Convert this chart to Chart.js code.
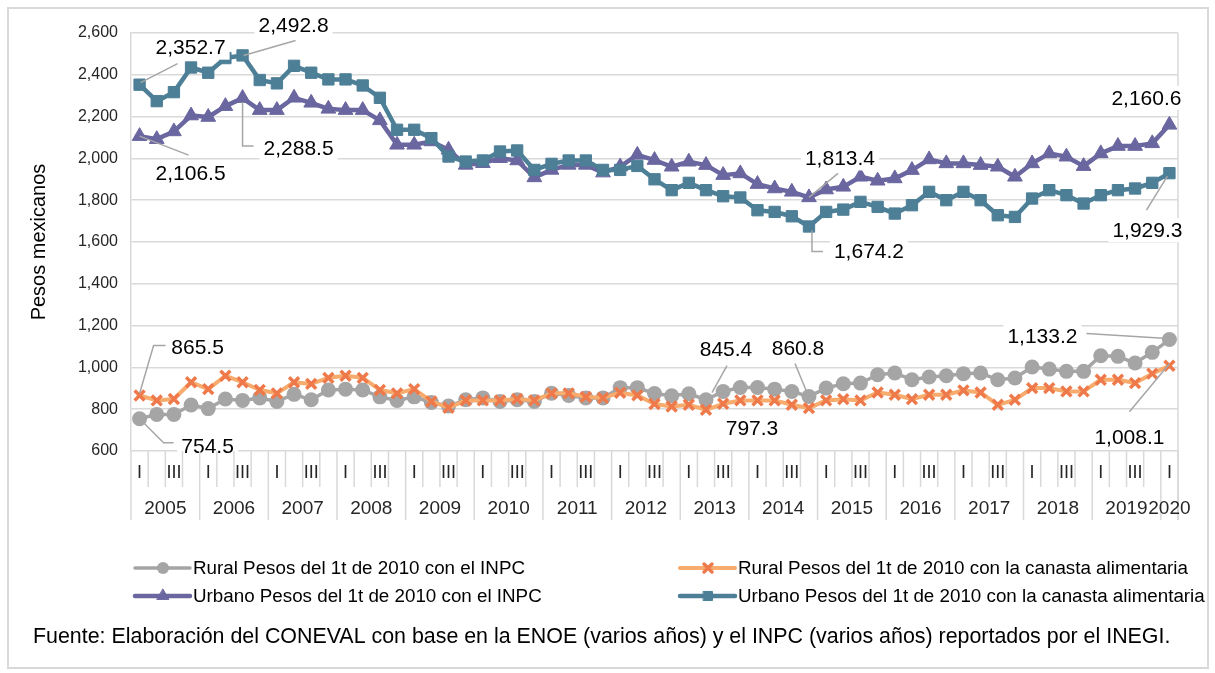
<!DOCTYPE html>
<html lang="es">
<head>
<meta charset="utf-8">
<title>Pesos mexicanos</title>
<script src="https://cdn.jsdelivr.net/npm/chart.js"></script>
<style>
  html, body { margin: 0; padding: 0; background: #fff; }
  #marco { position: absolute; left: 7px; top: 7px; width: 1198px; height: 658px; border: 2px solid #d9d9d9; }
  #grafico { position: absolute; left: 0; top: 0; }
</style>
</head>
<body>
<div id="marco"></div>
<canvas id="grafico" width="1215" height="673"></canvas>
<script>
// Datos
const anios = ['2005', '2006', '2007', '2008', '2009', '2010', '2011', '2012', '2013', '2014', '2015', '2016', '2017', '2018', '2019', '2020'];
const trimestres = ['I', 'II', 'III', 'IV'];

const ruralInpc = [
  754.5, 775, 775, 820, 803, 849, 842, 854, 837, 871, 845, 892, 896, 892, 859, 842,
  859, 832, 815, 845, 854, 837, 845, 837, 876, 866, 854, 854, 903, 903, 875, 864,
  874, 845.4, 885, 904, 904, 896, 885, 860.8, 901, 922, 925, 965, 973, 941, 954, 960,
  970, 973, 941, 949, 1002, 992, 981, 981, 1056, 1053, 1021, 1072, 1133.2
];
const ruralCanasta = [
  865.5, 842, 849, 929, 896, 960, 929, 892, 876, 929, 921, 950, 960, 950, 892, 876,
  896, 837, 807, 842, 842, 842, 849, 842, 876, 876, 859, 854, 879, 866, 825, 813,
  821, 797.3, 826, 842, 842, 842, 821, 805, 842, 848, 842, 880, 869, 848, 869, 869,
  890, 880, 821, 845, 901, 901, 885, 885, 941, 941, 925, 970, 1008.1
];
const urbanoInpc = [
  2106.5, 2092, 2129, 2205, 2198, 2250, 2288.5, 2231, 2231, 2290, 2266, 2237, 2231, 2231, 2182, 2065,
  2065, 2081, 2041, 1969, 1977, 2001, 1990, 1909, 1945, 1969, 1969, 1932, 1961, 2017, 1992, 1960,
  1984, 1968, 1920, 1928, 1877, 1856, 1840, 1813.4, 1851, 1864, 1912, 1893, 1904, 1944, 1995, 1976,
  1976, 1968, 1960, 1912, 1976, 2024, 2008, 1963, 2024, 2059, 2059, 2072, 2160.6
];
const urbanoCanasta = [
  2352.7, 2274, 2317, 2435, 2410, 2480, 2492.8, 2375, 2359, 2443, 2410, 2378, 2378, 2349, 2290, 2137,
  2137, 2097, 2009, 1985, 1990, 2033, 2038, 1945, 1974, 1990, 1990, 1945, 1945, 1964, 1900, 1848,
  1883, 1848, 1819, 1813, 1752, 1744, 1723, 1674.2, 1744, 1755, 1792, 1768, 1736, 1776, 1840, 1800,
  1840, 1800, 1728, 1720, 1808, 1848, 1824, 1784, 1824, 1848, 1856, 1883, 1929.3
];

const nombres = [
  'Rural Pesos del 1t de 2010 con el INPC',
  'Rural Pesos del 1t de 2010 con la canasta alimentaria',
  'Urbano Pesos del 1t de 2010 con el INPC',
  'Urbano Pesos del 1t de 2010 con la canasta alimentaria'
];
const fuente = 'Fuente: Elaboración del CONEVAL con base en la ENOE (varios años) y el INPC (varios años) reportados por el INEGI.';

// categorias trimestrales: 2005-I ... 2020-I
const etiquetas = [];
anios.forEach(a => trimestres.forEach(t => etiquetas.push([t, a])));
etiquetas.length = urbanoCanasta.length;

const FUENTE = "'Liberation Sans', Arial, sans-serif";
Chart.defaults.font.family = FUENTE;

const miles = v => String(v).replace(/\B(?=(\d{3})+(?!\d))/g, ',');
const fmt = v => {
  const [ent, dec] = v.toFixed(1).split('.');
  return miles(ent) + '.' + dec;
};

function marca(ctx, tipo, x, y, r, relleno, borde, ancho) {
  ctx.beginPath();
  if (tipo === 'circle') {
    ctx.arc(x, y, r, 0, Math.PI * 2);
  } else if (tipo === 'triangle') {
    ctx.moveTo(x, y - r);
    ctx.lineTo(x + r * 0.866, y + r / 2);
    ctx.lineTo(x - r * 0.866, y + r / 2);
    ctx.closePath();
  } else if (tipo === 'rect') {
    const s = r * Math.SQRT1_2;
    ctx.rect(x - s, y - s, 2 * s, 2 * s);
  } else if (tipo === 'crossRot') {
    const s = r * Math.SQRT1_2;
    ctx.moveTo(x - s, y - s); ctx.lineTo(x + s, y + s);
    ctx.moveTo(x + s, y - s); ctx.lineTo(x - s, y + s);
  }
  if (tipo !== 'crossRot') { ctx.fillStyle = relleno; ctx.fill(); }
  if (ancho > 0) { ctx.strokeStyle = borde; ctx.lineWidth = ancho; ctx.stroke(); }
}

// etiquetas de datos: serie, punto, desplazamiento del texto y linea guia
const rotulos = [
  { ds: 3, i: 0, dx: 51, dy: -37, guia: [[1, -2], [38, -21]] },
  { ds: 3, i: 6, dx: 51, dy: -30, guia: [[1, 0], [53, -15]] },
  { ds: 2, i: 0, dx: 51, dy: 37, guia: [[0, 0], [49, 19]] },
  { ds: 2, i: 6, dx: 56, dy: 50, guia: [[0, 4], [0, 48], [11, 48]] },
  { ds: 2, i: 39, dx: 31, dy: -39, guia: [[0, 0], [29, -24]] },
  { ds: 3, i: 39, dx: 60, dy: 25, guia: [[3, 4], [3, 25], [14, 25]] },
  { ds: 2, i: 60, dx: -23, dy: -27 },
  { ds: 3, i: 60, dx: -22, dy: 57, guia: [[-2, 3], [-23, 37]] },
  { ds: 1, i: 0, dx: 58, dy: -48, guia: [[0, -2], [14, -50], [26, -50]] },
  { ds: 0, i: 0, dx: 68, dy: 27, guia: [[0, 0], [24, 24], [34, 24]] },
  { ds: 0, i: 33, dx: 20, dy: -51, guia: [[6, -7], [21, -34]] },
  { ds: 0, i: 39, dx: -11, dy: -48, guia: [[-2, -4], [-14, -33]] },
  { ds: 1, i: 33, dx: 46, dy: 18 },
  { ds: 0, i: 60, dx: -127, dy: -3, guia: [[-2, -1], [-83, -6]] },
  { ds: 1, i: 60, dx: -40, dy: 71, guia: [[0, -2], [-40, 46]] }
];

const bordeDerecho = {
  id: 'bordeDerecho',
  beforeDatasetsDraw(chart) {
    const { ctx, chartArea: a } = chart;
    ctx.save();
    ctx.strokeStyle = '#d9d9d9';
    ctx.lineWidth = 1.5;
    ctx.beginPath();
    ctx.moveTo(a.right, a.top);
    ctx.lineTo(a.right, a.bottom + 69);
    ctx.stroke();
    ctx.restore();
  }
};

const rotulosDatos = {
  id: 'rotulosDatos',
  afterDatasetsDraw(chart) {
    const ctx = chart.ctx;
    ctx.save();
    ctx.font = '21px ' + FUENTE;
    ctx.textAlign = 'center';
    ctx.textBaseline = 'middle';
    rotulos.forEach(r => {
      const p = chart.getDatasetMeta(r.ds).data[r.i];
      if (r.guia) {
        ctx.strokeStyle = '#a6a6a6';
        ctx.lineWidth = 1.5;
        ctx.beginPath();
        r.guia.forEach(([gx, gy], k) => k ? ctx.lineTo(p.x + gx, p.y + gy) : ctx.moveTo(p.x + gx, p.y + gy));
        ctx.stroke();
      }
    });
    rotulos.forEach(r => {
      const p = chart.getDatasetMeta(r.ds).data[r.i];
      const texto = fmt(chart.data.datasets[r.ds].data[r.i]);
      const w = ctx.measureText(texto).width + 8;
      const cx = p.x + r.dx, cy = p.y + r.dy;
      ctx.fillStyle = '#fff';
      ctx.fillRect(cx - w / 2, cy - 12, w, 24);
      ctx.fillStyle = '#000';
      ctx.fillText(texto, cx, cy + 1);
    });
    ctx.restore();
  }
};

const ejeCategorias = {
  id: 'ejeCategorias',
  afterDraw(chart) {
    const { ctx, chartArea: a, scales: { x } } = chart;
    const n = etiquetas.length;
    const paso = x.getPixelForValue(1) - x.getPixelForValue(0);
    const x0 = x.getPixelForValue(0) - paso / 2;
    ctx.save();
    ctx.strokeStyle = '#d9d9d9';
    ctx.lineWidth = 1.5;
    for (let k = 0; k <= n; k++) {
      const xx = x0 + k * paso;
      const largo = (k % 4 === 0 || k === n) ? 69 : 36;
      ctx.beginPath();
      ctx.moveTo(xx, a.bottom);
      ctx.lineTo(xx, a.bottom + largo);
      ctx.stroke();
    }
    ctx.fillStyle = '#262626';
    ctx.font = '18px ' + FUENTE;
    ctx.textAlign = 'center';
    ctx.textBaseline = 'middle';
    etiquetas.forEach(([t], i) => {
      if (t === 'I' || t === 'III') ctx.fillText(t, x.getPixelForValue(i), a.bottom + 22);
    });
    ctx.font = '19px ' + FUENTE;
    anios.forEach((anio, j) => {
      const i0 = j * 4, i1 = Math.min(i0 + 3, n - 1);
      ctx.fillText(anio, (x.getPixelForValue(i0) + x.getPixelForValue(i1)) / 2, a.bottom + 58);
    });

    // leyenda
    const pos = [[135, 568], [680, 568], [135, 596], [680, 596]];
    ctx.textAlign = 'left';
    ctx.font = '18.8px ' + FUENTE;
    chart.data.datasets.forEach((ds, k) => {
      const [lx, ly] = pos[k];
      ctx.strokeStyle = ds.borderColor;
      ctx.lineWidth = ds.borderWidth;
      ctx.lineCap = 'round';
      ctx.beginPath();
      ctx.moveTo(lx, ly);
      ctx.lineTo(lx + 55, ly);
      ctx.stroke();
      marca(ctx, ds.pointStyle, lx + 28, ly, ds.pointRadius * 0.8, ds.pointBackgroundColor, ds.pointBorderColor, ds.pointBorderWidth);
      ctx.fillStyle = '#000';
      ctx.fillText(nombres[k], lx + 58, ly + 1);
    });

    ctx.font = '21.4px ' + FUENTE;
    ctx.fillText(fuente, 33, 637);
    ctx.restore();
  }
};

const ctx = document.getElementById('grafico').getContext('2d');
const grafico = new Chart(ctx, {
  type: 'line',
  data: {
    labels: etiquetas.map(e => e[0] + ' ' + e[1]),
    datasets: [
      {
        label: nombres[0], data: ruralInpc, order: 4,
        borderColor: '#a5a5a5', borderWidth: 3.5,
        pointStyle: 'circle', pointRadius: 7.5,
        pointBackgroundColor: '#a5a5a5', pointBorderColor: '#a5a5a5', pointBorderWidth: 0
      },
      {
        label: nombres[1], data: ruralCanasta, order: 3,
        borderColor: '#f7ab6c', borderWidth: 4,
        pointStyle: 'crossRot', pointRadius: 7,
        pointBackgroundColor: '#ee7a4c', pointBorderColor: '#ee7a4c', pointBorderWidth: 3.5
      },
      {
        label: nombres[2], data: urbanoInpc, order: 2,
        borderColor: '#6a66a0', borderWidth: 4.5,
        pointStyle: 'triangle', pointRadius: 8.5,
        pointBackgroundColor: '#6a66a0', pointBorderColor: '#6a66a0', pointBorderWidth: 1
      },
      {
        label: nombres[3], data: urbanoCanasta, order: 1,
        borderColor: '#4d7f97', borderWidth: 4.5,
        pointStyle: 'rect', pointRadius: 8,
        pointBackgroundColor: '#4d7f97', pointBorderColor: '#4d7f97', pointBorderWidth: 1
      }
    ]
  },
  options: {
    responsive: false,
    animation: false,
    events: [],
    devicePixelRatio: 1,
    layout: { padding: { left: 0, top: 33, right: 37, bottom: 222 } },
    elements: { line: { tension: 0, borderJoinStyle: 'round', fill: false } },
    plugins: { legend: { display: false }, tooltip: { enabled: false } },
    scales: {
      x: { display: false, offset: true },
      y: {
        min: 600, max: 2600,
        afterFit: s => { s.width = 131; },
        ticks: { stepSize: 200, padding: 13, color: '#262626', font: { size: 16 }, callback: v => miles(v) },
        grid: { color: '#d9d9d9', lineWidth: 1.5, drawTicks: false },
        border: { display: true, color: '#d9d9d9', width: 1.5 },
        title: { display: true, text: 'Pesos mexicanos', color: '#000', font: { size: 20 }, padding: { top: 27, bottom: 0 } }
      }
    }
  },
  plugins: [bordeDerecho, rotulosDatos, ejeCategorias]
});
</script>
</body>
</html>
